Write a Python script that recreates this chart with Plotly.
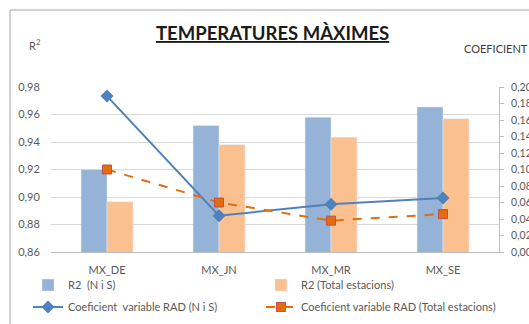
import plotly.graph_objects as go

categories = ["MX_DE", "MX_JN", "MX_MR", "MX_SE"]
r2_nis = [0.920, 0.952, 0.958, 0.9655]
r2_total = [0.8965, 0.938, 0.9435, 0.957]
cv_nis = [0.189, 0.044, 0.058, 0.0655]
cv_total = [0.100, 0.060, 0.038, 0.046]

names = ["R2  (N i S)", "R2 (Total estacions)",
         "Coeficient  variable RAD (N i S)", "Coeficient variable RAD (Total estacions)"]

W, H = 529, 324
ML, MR, MT, MB = 51, 30, 87, 72
PW = W - ML - MR
PH = H - MT - MB

def px(x):
    return (x - ML) / PW

def py(y):
    return (H - MB - y) / PH

FONT = "Lato"
GRAY = "#595959"

fig = go.Figure()
fig.add_trace(go.Bar(x=categories, y=r2_nis, name=names[0], marker_color="#95B3D7",
                     legend="legend"))
fig.add_trace(go.Bar(x=categories, y=r2_total, name=names[1], marker_color="#FAC090",
                     legend="legend2"))
fig.add_trace(go.Scatter(x=categories, y=cv_nis, name=names[2], yaxis="y2",
                         mode="lines+markers",
                         line=dict(color="#4F81BD", width=2),
                         marker=dict(symbol="diamond", size=10, color="#4F81BD"),
                         legend="legend3"))
fig.add_trace(go.Scatter(x=categories, y=cv_total, name=names[3], yaxis="y2",
                         mode="lines+markers",
                         line=dict(color="#E46C0A", width=2, dash="dash"),
                         marker=dict(symbol="square", size=9, color="#E46C0A",
                                     line=dict(color="#C0504D", width=1)),
                         legend="legend4"))

legfont = dict(family=FONT, size=11, color=GRAY)
def leg(xp, yp):
    return dict(x=px(xp), y=py(yp), xanchor="left", yanchor="middle",
                orientation="h", font=legfont, bgcolor="rgba(0,0,0,0)")

fig.update_layout(
    width=W, height=H,
    margin=dict(l=ML, r=MR, t=MT, b=MB, autoexpand=False),
    paper_bgcolor="white", plot_bgcolor="white",
    separators=", ",
    barmode="group", bargap=0.536, bargroupgap=0,
    showlegend=True,
    legend=leg(28, 285),
    legend2=leg(261, 285),
    legend3=leg(28, 307),
    legend4=leg(261, 307),
    xaxis=dict(showline=True, linecolor="#BFBFBF", linewidth=1,
               ticks="outside", ticklen=8, tickcolor="rgba(0,0,0,0)",
               tickfont=dict(family=FONT, size=11, color=GRAY), fixedrange=True),
    yaxis=dict(range=[0.86, 0.98], dtick=0.02, tickformat=".2f",
               showgrid=True, gridcolor="#D9D9D9", zeroline=False,
               tickfont=dict(family=FONT, size=11, color=GRAY),
               ticks="outside", ticklen=8, tickcolor="rgba(0,0,0,0)"),
    yaxis2=dict(range=[0, 0.20], dtick=0.02, tickformat=".2f", overlaying="y",
                side="right", showgrid=False, zeroline=False,
                showline=True, linecolor="#BFBFBF", linewidth=1,
                ticks="outside", ticklen=4, tickcolor="#BFBFBF",
                ticklabelstandoff=5,
                tickfont=dict(family=FONT, size=10.5, color=GRAY)),
    annotations=[
        dict(text="<b><u>TEMPERATURES MÀXIMES</u></b>", xref="paper", yref="paper",
             x=px(272), y=py(33), xanchor="center", yanchor="middle", showarrow=False,
             font=dict(family=FONT, size=18.5, color="#1a1a1a")),
        dict(text="R<sup>2</sup>", xref="paper", yref="paper",
             x=px(27), y=py(45), xanchor="left", yanchor="middle", showarrow=False,
             font=dict(family=FONT, size=11, color=GRAY)),
        dict(text="COEFICIENT", xref="paper", yref="paper",
             x=px(462), y=py(48), xanchor="left", yanchor="middle", showarrow=False,
             font=dict(family=FONT, size=11, color="#404040")),
    ],
    shapes=[
        dict(type="rect", xref="paper", yref="paper",
             x0=px(10), y0=py(400), x1=px(700), y1=py(10),
             line=dict(color="#A6A6A6", width=1), fillcolor="rgba(0,0,0,0)", layer="below"),
    ],
)

fig.write_html("out.html", config={"displayModeBar": False},
               post_script="document.body.style.margin='0';document.body.style.overflow='hidden';")
